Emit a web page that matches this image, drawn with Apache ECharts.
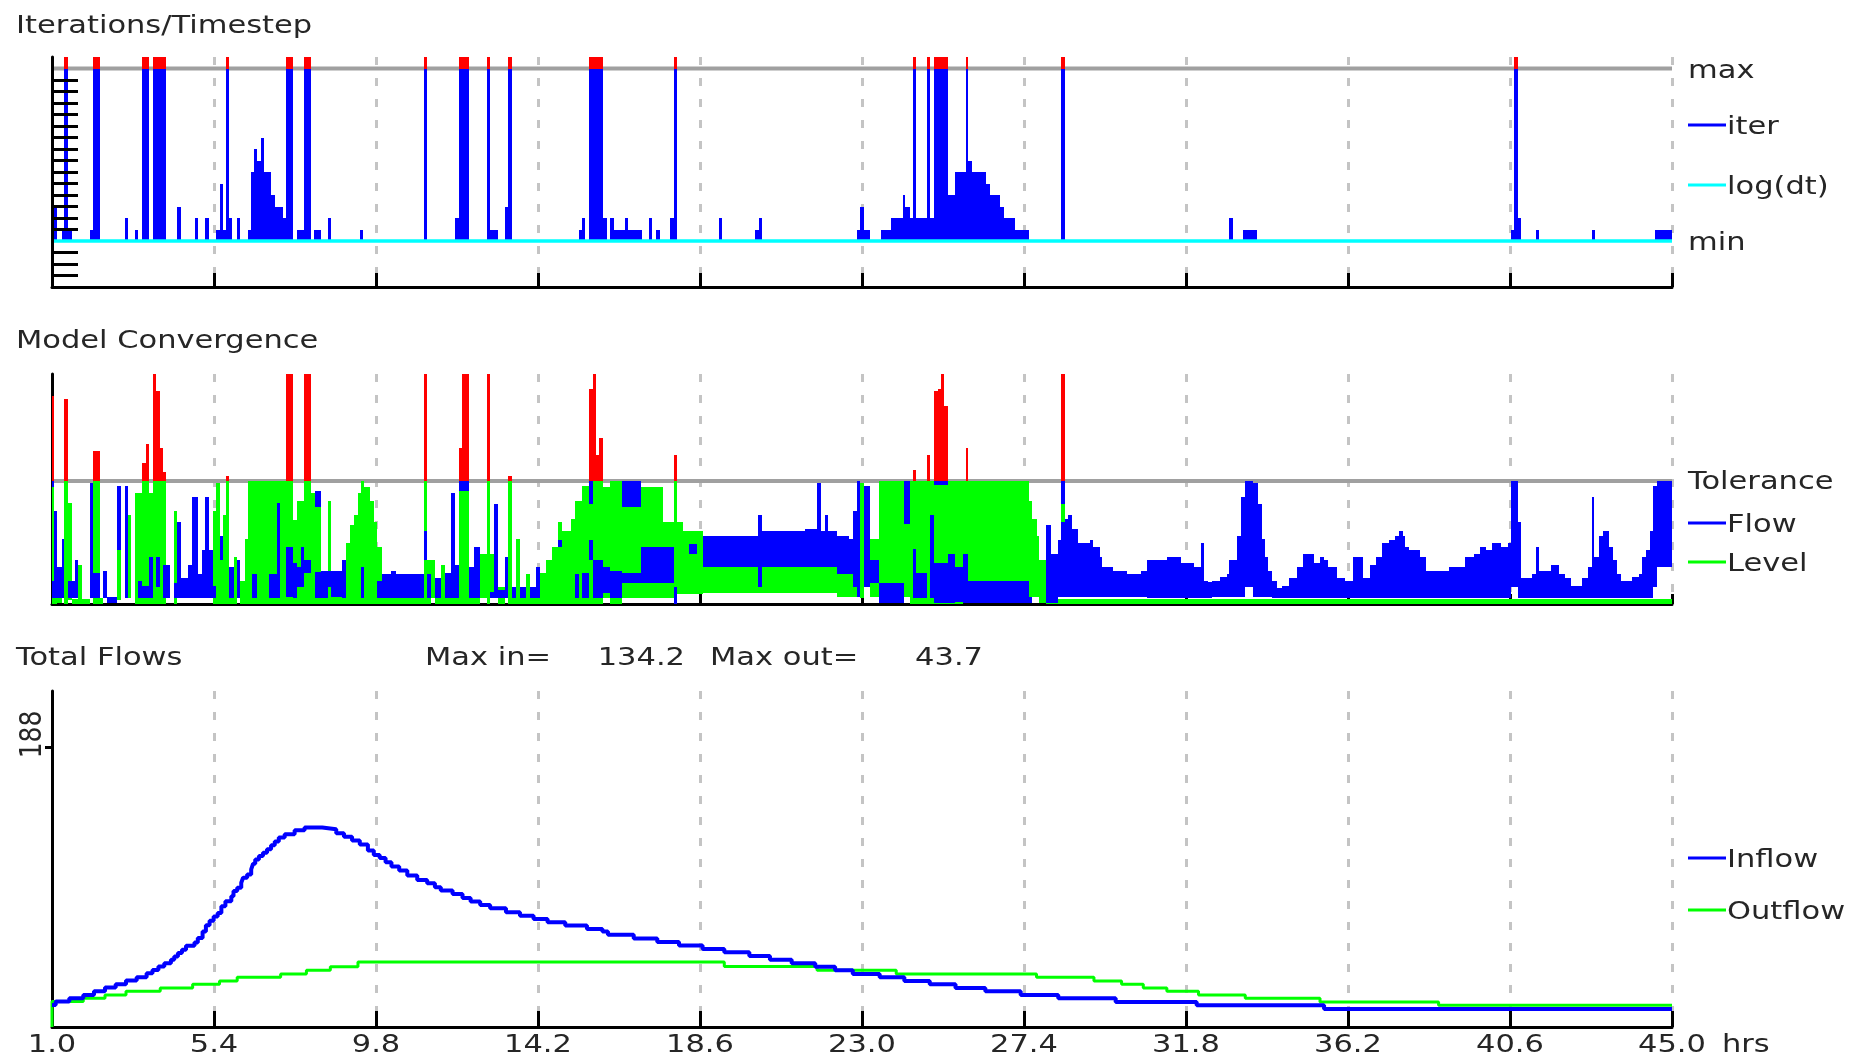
<!DOCTYPE html>
<html>
<head>
<meta charset="utf-8">
<title>Run summary</title>
<script src="https://cdn.jsdelivr.net/npm/echarts@6.0.0/dist/echarts.min.js"></script>
<style>
html,body{margin:0;padding:0;background:#ffffff;}
#chart{width:1852px;height:1058px;}
</style>
</head>
<body>
<div id="chart"></div>
<script>
// ================= DATA =================
const T_START = 1.0;
const T_END = 45.0;
const T_STEP = 4.4;
const X_TICK_LABELS = ['1.0','5.4','9.8','14.2','18.6','23.0','27.4','31.8','36.2','40.6','45.0'];
const X_UNIT = 'hrs';

// --- Iterations / Timestep ---
const ITER_MAX = 15;
const ITER_TICKS = [-3,-2,-1,1,2,3,4,5,6,7,8,9,10,11,12,13,14];
// [t start, t end, iterations]  (20 = exceeded max)
const ITER_SEGMENTS = [
  [1.00,1.06,20],[1.06,1.13,3],[1.26,1.33,1],[1.33,1.43,20],[1.43,1.53,1],
  [2.02,2.10,1],[2.10,2.31,20],[2.98,3.06,2],[3.25,3.33,1],[3.45,3.64,20],[3.73,4.10,20],
  [4.40,4.51,3],[4.89,4.96,2],[5.15,5.26,2],[5.45,5.55,1],[5.55,5.64,5],[5.64,5.73,1],[5.73,5.82,20],[5.82,5.90,2],[6.02,6.10,2],
  [6.31,6.41,1],[6.41,6.48,6],[6.48,6.58,8],[6.58,6.68,7],[6.68,6.77,9],[6.77,6.96,6],[6.96,7.07,4],[7.07,7.28,3],[7.28,7.35,2],[7.35,7.55,20],
  [7.65,7.85,1],[7.85,8.04,20],[8.12,8.30,1],[8.50,8.59,2],[9.36,9.46,1],
  [11.10,11.19,20],[11.95,12.05,2],[12.05,12.32,20],[12.82,12.90,20],[12.90,13.10,1],[13.30,13.39,3],[13.39,13.49,20],
  [15.31,15.39,1],[15.39,15.49,2],[15.59,15.97,20],[15.97,16.07,2],[16.15,16.26,2],[16.26,16.55,1],[16.55,16.64,2],[16.64,17.02,1],
  [17.21,17.30,2],[17.40,17.50,1],[17.79,17.89,2],[17.89,17.97,20],[19.12,19.21,2],[20.10,20.19,1],[20.19,20.28,2],
  [22.87,22.95,1],[22.95,23.05,3],[23.05,23.23,1],[23.51,23.80,1],[23.80,24.10,2],[24.10,24.18,4],[24.18,24.30,3],[24.30,24.38,2],[24.38,24.48,20],
  [24.48,24.76,2],[24.76,24.85,20],[24.85,24.95,2],[24.95,25.33,20],[25.33,25.52,4],[25.52,25.82,6],[25.82,25.88,20],[25.88,26.00,7],
  [26.00,26.38,6],[26.38,26.49,5],[26.49,26.75,4],[26.75,26.86,3],[26.86,27.15,2],[27.15,27.53,1],[28.40,28.50,20],
  [32.98,33.07,2],[33.36,33.74,1],[40.63,40.72,1],[40.72,40.81,20],[40.81,40.89,2],[41.31,41.40,1],[42.83,42.91,1],[44.55,45.00,1]
];
const LOGDT = [[1.0,0],[45.0,0]];

// --- Model Convergence (relative to tolerance = 1) ---
const TOLERANCE = 1.0;
// [t start, t end, low, high]
const LEVEL_SEGMENTS = [
  [1.00,1.06,0,0.95],[1.06,1.13,0,0.05],[1.13,1.26,0.01,0.10],[1.33,1.43,0,1.0],[1.43,1.53,0.03,0.82],
  [1.53,1.71,0,0.04],[1.71,1.82,0,0.32],[1.82,2.02,0,0.04],[2.10,2.31,0,1.0],[2.31,2.39,0,0.05],
  [2.77,2.87,0.03,0.44],[3.06,3.14,0.05,0.72],[3.25,3.45,0,0.90],[3.45,3.64,0,1.0],[3.64,3.73,0,0.90],
  [3.73,4.10,0,1.0],[4.32,4.40,0,0.76],[5.36,5.45,0,0.76],[5.45,5.55,0,0.98],[5.55,5.64,0,0.36],
  [5.64,5.73,0,0.72],[5.73,5.82,0,1.0],[5.82,5.93,0,0.14],[5.93,6.02,0,0.38],[6.10,6.23,0,0.19],
  [6.23,6.31,0,0.53],[6.31,7.55,0,1.0],[7.55,7.66,0,0.68],[7.66,7.85,0,0.84],[7.85,8.04,0,1.0],
  [8.04,8.13,0,0.90],[8.13,8.31,0,0.79],[8.31,8.50,0,0.06],[8.50,8.59,0,0.84],[8.59,8.89,0,0.06],
  [8.89,8.99,0,0.32],[8.99,9.09,0,0.50],[9.09,9.20,0,0.64],[9.20,9.31,0,0.72],[9.31,9.38,0,0.90],
  [9.38,9.47,0,1.0],[9.47,9.63,0,0.95],[9.63,9.74,0,0.84],[9.74,9.84,0,0.67],[9.84,9.95,0,0.46],
  [9.95,11.10,0,0.05],[11.10,11.19,0,1.0],[11.19,11.29,0,0.36],[11.29,11.40,0.05,0.36],[11.40,11.56,0,0.05],
  [11.56,11.67,0,0.32],[11.67,12.06,0,0.05],[12.06,12.32,0,1.0],[12.32,12.62,0,0.06],[12.62,12.82,0.05,0.41],
  [12.82,12.90,0,1.0],[12.90,13.01,0.05,0.41],[13.10,13.30,0,0.14],[13.39,13.49,0,1.0],[13.49,13.60,0,0.05],
  [13.60,13.71,0,0.53],[13.71,13.87,0,0.05],[13.87,13.98,0,0.24],[13.98,14.25,0,0.05],[14.25,14.41,0,0.25],
  [14.41,14.57,0,0.36],[14.57,14.73,0,0.46],[14.73,14.84,0,0.67],[14.84,15.10,0,0.59],[15.10,15.21,0,0.69],
  [15.21,15.39,0,0.84],[15.39,15.59,0,0.96],[15.59,15.97,0,1.0],[15.97,16.15,0.05,0.95],[16.15,16.47,0,1.0],
  [16.47,17.01,0.05,0.79],[17.01,17.60,0.05,0.95],[17.60,17.89,0.05,0.67],[17.89,17.97,0,1.0],[17.97,18.13,0.08,0.67],
  [18.13,18.67,0.08,0.59],[18.67,22.32,0.09,0.30],[22.32,22.86,0.06,0.25],[22.94,23.05,0.05,0.98],[23.23,23.45,0.06,0.53],
  [23.45,24.15,0.06,1.0],[24.15,24.31,0.06,0.65],[24.31,25.73,0,1.0],[25.73,25.88,0.41,1.0],[25.88,27.53,0.01,1.0],
  [27.53,27.63,0.06,0.84],[27.63,27.74,0.06,0.69],[27.74,27.82,0.06,0.55],[27.82,28.01,0.01,0.36],[28.40,28.50,0.67,0.81],
  [28.01,45.00,0,0.04]
];
const FLOW_SEGMENTS = [
  [1.00,1.06,0.95,1.0],[1.00,1.06,0.05,0.19],[1.06,1.13,0.05,0.76],[1.13,1.26,0.05,0.30],[1.26,1.33,0.05,0.53],
  [1.43,1.53,0.05,0.19],[1.53,1.63,0.05,0.19],[1.63,1.71,0.05,0.36],[2.02,2.10,0.05,0.98],[2.10,2.31,0.05,0.25],
  [2.39,2.49,0.05,0.27],[2.49,2.77,0.01,0.06],[2.77,2.87,0.44,0.96],[2.98,3.06,0.05,0.96],[3.33,3.45,0.05,0.19],
  [3.45,3.64,0.05,0.15],[3.64,3.73,0.05,0.38],[3.83,3.92,0.14,0.38],[4.02,4.21,0.05,0.32],[4.32,4.40,0.05,0.17],
  [4.40,4.51,0.05,0.67],[4.51,4.69,0.05,0.21],[4.69,4.79,0.05,0.32],[4.79,4.96,0.05,0.87],[4.96,5.07,0.05,0.24],
  [5.07,5.15,0.05,0.44],[5.15,5.26,0.05,0.87],[5.26,5.36,0.05,0.44],[5.36,5.45,0.05,0.15],[5.55,5.64,0.36,0.55],
  [5.82,5.93,0.05,0.30],[6.02,6.10,0.05,0.36],[6.42,6.57,0.05,0.24],[6.89,7.11,0.05,0.24],[7.11,7.19,0.05,0.82],
  [7.35,7.55,0.06,0.46],[7.55,7.66,0.05,0.33],[7.66,7.75,0.14,0.30],[7.75,7.85,0.14,0.46],[7.85,8.04,0.25,0.36],
  [8.13,8.31,0.79,0.92],[8.13,8.31,0.05,0.26],[8.31,8.50,0.05,0.27],[8.50,8.59,0.14,0.27],[8.59,8.89,0.06,0.27],
  [8.89,8.99,0.05,0.36],[9.38,9.47,0.05,0.30],[9.84,9.95,0.05,0.19],[9.95,10.22,0.05,0.24],[10.22,10.33,0.05,0.27],
  [10.33,11.10,0.05,0.24],[11.10,11.19,0.36,0.59],[11.19,11.29,0.05,0.24],[11.40,11.56,0.05,0.21],[11.67,11.83,0.05,0.25],
  [11.83,11.94,0.05,0.90],[11.94,12.06,0.05,0.32],[12.06,12.32,0.92,1.0],[12.32,12.47,0.05,0.30],[12.47,12.62,0.05,0.46],
  [12.90,13.01,0.05,0.10],[13.01,13.10,0.05,0.81],[13.10,13.30,0.05,0.11],[13.30,13.39,0.05,0.38],[13.49,13.60,0.05,0.14],
  [13.71,13.87,0.05,0.14],[13.98,14.14,0.05,0.14],[14.14,14.25,0.05,0.30],[14.73,14.84,0.46,0.52],[15.21,15.32,0.05,0.24],
  [15.39,15.59,0.05,0.25],[15.59,15.69,0.81,1.0],[15.59,15.69,0.36,0.52],[15.69,15.96,0.05,0.36],[15.97,16.15,0.09,0.30],
  [16.15,16.47,0.05,0.27],[16.47,17.01,0.79,1.0],[16.47,17.01,0.17,0.25],[17.01,17.60,0.17,0.46],[17.60,17.89,0.17,0.46],
  [17.89,17.97,0.0,0.14],[18.30,18.51,0.41,0.49],[18.67,20.17,0.30,0.55],[20.17,20.28,0.14,0.72],[20.28,21.46,0.30,0.59],
  [21.46,21.78,0.30,0.61],[21.78,21.89,0.30,0.98],[21.89,22.00,0.30,0.59],[22.00,22.08,0.30,0.72],[22.08,22.32,0.30,0.59],
  [22.32,22.64,0.24,0.55],[22.64,22.75,0.24,0.53],[22.75,22.86,0.14,0.76],[22.86,22.94,0.06,1.0],[23.05,23.23,0.14,0.96],
  [23.23,23.45,0.17,0.36],[23.45,24.15,0.01,0.17],[24.15,24.31,0.65,1.0],[24.38,24.48,0.05,0.45],[24.48,24.76,0.05,0.25],
  [24.85,24.95,0.05,0.72],[24.95,25.33,0.97,1.0],[24.95,25.33,0.01,0.33],[25.33,25.52,0.01,0.41],[25.52,25.73,0.02,0.30],
  [25.73,25.88,0.01,0.41],[25.88,27.53,0.01,0.19],[27.53,27.63,0.01,0.06],[28.01,28.12,0.01,0.64],[28.12,28.33,0.01,0.41],
  [28.33,28.40,0.06,0.52],[28.40,28.50,0.81,1.0],[28.40,28.50,0.06,0.67],
  [28.50,28.60,0.06,0.69],[28.60,28.71,0.06,0.72],[28.71,28.87,0.06,0.61],[28.87,29.19,0.06,0.50],[29.19,29.28,0.06,0.52],
  [29.28,29.46,0.06,0.46],[29.46,29.53,0.06,0.38],[29.53,29.83,0.06,0.30],[29.83,30.21,0.06,0.27],[30.21,30.59,0.06,0.24],
  [30.59,30.75,0.06,0.27],[30.75,31.28,0.05,0.36],[31.28,31.66,0.05,0.38],[31.66,32.03,0.05,0.33],[32.03,32.20,0.05,0.30],
  [32.20,32.28,0.05,0.50],[32.28,32.41,0.05,0.19],[32.41,32.51,0.05,0.18],[32.51,32.73,0.06,0.19],[32.73,32.90,0.06,0.22],
  [32.90,32.98,0.06,0.24],[32.98,33.18,0.06,0.36],[33.18,33.30,0.06,0.55],[33.30,33.39,0.06,0.87],[33.39,33.63,0.14,1.0],
  [33.63,33.75,0.06,0.98],[33.75,33.86,0.06,0.81],[33.86,33.94,0.06,0.53],[33.94,34.03,0.06,0.38],[34.03,34.14,0.06,0.27],
  [34.14,34.26,0.05,0.19],[34.26,34.42,0.05,0.13],[34.42,34.59,0.05,0.15],[34.59,34.82,0.05,0.21],[34.82,34.99,0.05,0.30],
  [34.99,35.27,0.05,0.41],[35.27,35.44,0.05,0.33],[35.44,35.55,0.05,0.38],[35.55,35.67,0.05,0.36],[35.67,35.89,0.05,0.30],
  [35.89,36.12,0.05,0.21],[36.12,36.34,0.05,0.19],[36.34,36.62,0.05,0.38],[36.62,36.79,0.05,0.21],[36.79,36.96,0.05,0.32],
  [36.96,37.13,0.05,0.38],[37.13,37.30,0.05,0.50],[37.30,37.47,0.05,0.52],[37.47,37.58,0.05,0.55],[37.58,37.70,0.05,0.59],
  [37.70,37.75,0.05,0.55],[37.75,37.87,0.05,0.46],[37.87,38.15,0.05,0.44],[38.15,38.32,0.05,0.38],[38.32,38.94,0.05,0.27],
  [38.94,39.39,0.05,0.30],[39.39,39.62,0.05,0.38],[39.62,39.79,0.05,0.41],[39.79,39.96,0.05,0.46],[39.96,40.12,0.05,0.44],
  [40.12,40.35,0.05,0.50],[40.35,40.54,0.05,0.46],[40.54,40.63,0.05,0.50],[40.63,40.81,0.14,1.0],[40.81,40.89,0.05,0.67],
  [40.89,41.20,0.05,0.21],[41.20,41.31,0.05,0.24],[41.31,41.40,0.05,0.46],[41.40,41.70,0.05,0.27],[41.70,41.93,0.05,0.32],
  [41.93,42.10,0.05,0.24],[42.10,42.27,0.05,0.21],[42.27,42.55,0.05,0.15],[42.55,42.72,0.05,0.21],[42.72,42.83,0.05,0.30],
  [42.83,42.89,0.05,0.87],[42.89,43.03,0.05,0.38],[43.03,43.12,0.05,0.55],[43.12,43.28,0.05,0.59],[43.28,43.40,0.05,0.46],
  [43.40,43.51,0.05,0.36],[43.51,43.62,0.05,0.24],[43.62,43.91,0.05,0.19],[43.91,44.11,0.05,0.22],[44.11,44.19,0.05,0.24],
  [44.19,44.30,0.05,0.38],[44.30,44.41,0.05,0.44],[44.41,44.49,0.05,0.59],[44.49,44.58,0.14,0.96],[44.58,45.00,0.30,1.0]
];
// [t start, t end, peak] convergence exceeding tolerance
const CONV_PEAKS = [
  [1.00,1.06,1.69],[1.33,1.43,1.67],[2.10,2.31,1.24],[3.45,3.54,1.15],[3.54,3.64,1.30],
  [3.73,3.83,1.9],[3.83,3.92,1.73],[3.92,4.02,1.27],[4.02,4.10,1.07],[5.73,5.82,1.04],
  [7.35,7.55,1.9],[7.85,8.04,1.9],[11.10,11.19,1.9],[12.06,12.14,1.27],[12.14,12.32,1.9],
  [12.82,12.90,1.9],[13.39,13.49,1.04],[15.59,15.69,1.75],[15.69,15.78,1.9],[15.78,15.87,1.21],
  [15.87,15.97,1.35],[17.89,17.97,1.21],[24.38,24.48,1.09],[24.76,24.85,1.21],[24.95,25.06,1.73],
  [25.06,25.15,1.75],[25.15,25.24,1.9],[25.24,25.33,1.61],[25.82,25.88,1.27],[28.40,28.50,1.9]
];

// --- Total Flows ---  [t, value] (value holds until next t)
const INFLOW = [
  [1.00,14.8],[1.10,17.1],[1.47,19.3],[1.85,21.6],[2.14,24.0],[2.44,26.5],[2.73,28.8],[3.01,31.2],[3.30,33.5],
  [3.57,36.2],[3.73,38.4],[3.89,40.7],[4.05,42.9],[4.23,45.2],[4.32,47.4],[4.42,49.7],[4.53,51.9],[4.64,54.6],
  [4.87,56.9],[4.96,59.8],[5.09,64.3],[5.18,68.5],[5.28,71.5],[5.39,74.4],[5.50,76.7],[5.60,81.2],[5.71,84.6],
  [5.87,88.0],[5.93,91.4],[6.03,93.6],[6.14,97.0],[6.19,100.4],[6.30,102.6],[6.41,106.0],[6.46,109.8],[6.52,112.7],
  [6.62,115.0],[6.73,117.2],[6.84,119.5],[6.95,122.2],[7.05,124.7],[7.16,127.4],[7.32,129.6],[7.59,132.3],[7.86,134.2],
  [8.34,133.0],[8.72,130.3],[8.93,128.0],[9.15,125.4],[9.36,122.7],[9.58,118.7],[9.74,115.7],[9.90,113.7],[10.06,110.8],
  [10.22,107.9],[10.43,105.2],[10.65,101.9],[10.92,98.9],[11.19,96.7],[11.40,94.0],[11.56,91.8],[11.88,89.5],[12.15,86.8],
  [12.37,84.4],[12.63,82.1],[12.90,79.9],[13.33,77.2],[13.71,74.9],[14.08,72.7],[14.46,70.5],[14.94,68.2],[15.53,66.0],
  [15.95,64.3],[16.10,62.1],[16.80,59.6],[17.44,57.1],[18.03,54.9],[18.67,52.4],[19.26,50.2],[19.94,47.7],[20.50,45.2],
  [21.09,42.9],[21.73,40.5],[22.27,38.2],[22.75,35.7],[23.48,33.5],[24.15,31.0],[24.84,28.8],[25.54,26.3],[26.35,24.0],
  [27.31,21.6],[28.33,19.3],[29.89,16.8],[32.09,14.6],[35.55,12.1],[45.00,12.1]
];
const OUTFLOW = [
  [1.00,0],[1.00,17.1],[1.85,19.3],[2.44,21.6],[3.01,24.0],[3.94,26.3],[4.82,28.8],[5.55,31.0],[6.03,33.5],
  [7.21,35.7],[7.91,38.2],[8.56,40.5],[9.31,43.7],[19.26,40.7],[21.78,38.2],[23.93,35.7],[27.74,33.5],[29.30,31.0],
  [30.05,28.8],[30.64,26.3],[31.28,24.0],[32.14,21.6],[33.41,19.3],[35.44,16.8],[38.66,14.6],[45.00,14.6]
];
const MAX_IN = 134.2;
const MAX_OUT = 43.7;
const FLOW_AXIS_TICKS = [188];

// ================= STYLE =================
const C = {
  blue:'#0000ff', green:'#00ff00', red:'#ff0000', cyan:'#00ffff',
  ref:'#a0a0a0', grid:'#c4c4c4', axis:'#000000', text:'#262626'
};
const FONT = '25px "DejaVu Sans"';
const SX = 1.22;
const DY = 3; // text vertical nudge

const sx = t => t - T_START;

function xAxisCfg(gridIndex, tickLen) {
  return {
    type:'value', gridIndex, min:0, max:T_END - T_START, interval:T_STEP,
    axisLine:{show:true, onZero:false, lineStyle:{color:C.axis, width:3}},
    axisTick:{show:true, inside:true, length:tickLen, lineStyle:{color:C.axis, width:3}},
    axisLabel:{show:false},
    splitLine:{show:true, lineStyle:{color:C.grid, width:3, type:[8,13]}}
  };
}

function rangeRender(color) {
  return function (params, api) {
    const cs = params.coordSys;
    const a = api.coord([api.value(0), api.value(3)]);
    const b = api.coord([api.value(1), api.value(2)]);
    const x0 = Math.round(a[0]), x1 = Math.round(b[0]);
    const y0 = Math.round(Math.max(a[1], cs.y));
    const y1 = Math.round(Math.min(b[1], cs.y + cs.height));
    if (x1 <= x0 || y1 <= y0) return null;
    return {type:'rect', shape:{x:x0, y:y0, width:x1 - x0, height:y1 - y0}, style:{fill:color}};
  };
}

function iterRender(params, api) {
  const cs = params.coordSys;
  const t0 = api.value(0), t1 = api.value(1), v = api.value(2);
  const children = [];
  const base = api.coord([t0, 0]);
  const right = api.coord([t1, 0]);
  const x0 = Math.round(base[0]), x1 = Math.round(right[0]);
  const yTop = api.coord([t0, Math.min(v, ITER_MAX)])[1];
  children.push({type:'rect', shape:{x:x0, y:Math.round(yTop), width:x1 - x0, height:Math.round(base[1]) - Math.round(yTop)}, style:{fill:C.blue}});
  if (v > ITER_MAX) {
    const yMax = api.coord([t0, ITER_MAX])[1];
    const yOver = Math.max(api.coord([t0, v])[1], cs.y);
    children.push({type:'rect', shape:{x:x0, y:Math.round(yOver), width:x1 - x0, height:Math.round(yMax) - Math.round(yOver)}, style:{fill:C.red}});
  }
  return {type:'group', children};
}

const option = {
  animation:false,
  backgroundColor:'#ffffff',
  grid:[
    {left:52, right:180, top:57, bottom:771},
    {left:52, right:180, top:374, bottom:454},
    {left:52, right:180, top:691, bottom:31}
  ],
  xAxis:[xAxisCfg(0,14), xAxisCfg(1,10), xAxisCfg(2,16)],
  yAxis:[
    {type:'value', gridIndex:0, min:-4, max:16, interval:1, z:10,
     axisLine:{show:true, onZero:false, lineStyle:{color:C.axis, width:3}},
     axisTick:{show:true, inside:true, length:26, customValues:ITER_TICKS, lineStyle:{color:C.axis, width:3}},
     axisLabel:{show:false}, splitLine:{show:false}},
    {type:'value', gridIndex:1, min:0, max:1.87,
     axisLine:{show:true, onZero:false, lineStyle:{color:C.axis, width:3}},
     axisTick:{show:false}, axisLabel:{show:false}, splitLine:{show:false}},
    {type:'value', gridIndex:2, min:0, max:226,
     axisLine:{show:true, onZero:false, lineStyle:{color:C.axis, width:3}},
     axisTick:{show:true, inside:false, length:7, customValues:FLOW_AXIS_TICKS, lineStyle:{color:C.axis, width:3}},
     axisLabel:{show:false}, splitLine:{show:false}}
  ],
  series:[
    {type:'line', xAxisIndex:0, yAxisIndex:0, z:1, silent:true, symbol:'none',
     data:[[sx(T_START), ITER_MAX],[sx(T_END), ITER_MAX]], lineStyle:{color:C.ref, width:4}},
    {type:'custom', xAxisIndex:0, yAxisIndex:0, z:2, silent:true, renderItem:iterRender,
     encode:{x:[0,1], y:2},
     data:ITER_SEGMENTS.map(s => [sx(s[0]), sx(s[1]), s[2]])},
    {type:'line', xAxisIndex:0, yAxisIndex:0, z:3, silent:true, symbol:'none',
     data:LOGDT.map(p => [sx(p[0]), p[1]]), lineStyle:{color:C.cyan, width:3.5}},

    {type:'line', xAxisIndex:1, yAxisIndex:1, z:1, silent:true, symbol:'none',
     data:[[sx(T_START), TOLERANCE],[sx(T_END), TOLERANCE]], lineStyle:{color:C.ref, width:4}},
    {type:'custom', xAxisIndex:1, yAxisIndex:1, z:2, silent:true, renderItem:rangeRender(C.green),
     encode:{x:[0,1], y:[2,3]},
     data:LEVEL_SEGMENTS.map(s => [sx(s[0]), sx(s[1]), s[2], s[3]])},
    {type:'custom', xAxisIndex:1, yAxisIndex:1, z:3, silent:true, renderItem:rangeRender(C.blue),
     encode:{x:[0,1], y:[2,3]},
     data:FLOW_SEGMENTS.map(s => [sx(s[0]), sx(s[1]), s[2], s[3]])},
    {type:'custom', xAxisIndex:1, yAxisIndex:1, z:4, silent:true, renderItem:rangeRender(C.red),
     encode:{x:[0,1], y:[2,3]},
     data:CONV_PEAKS.map(s => [sx(s[0]), sx(s[1]), TOLERANCE, s[2]])},

    {type:'line', xAxisIndex:2, yAxisIndex:2, z:2, silent:true, symbol:'none', step:'end',
     data:OUTFLOW.map(p => [sx(p[0]), p[1]]), lineStyle:{color:C.green, width:3}},
    {type:'line', xAxisIndex:2, yAxisIndex:2, z:3, silent:true, symbol:'none', step:'end',
     data:INFLOW.map(p => [sx(p[0]), p[1]]), lineStyle:{color:C.blue, width:4}}
  ]
};

const chart = echarts.init(document.getElementById('chart'), null, {renderer:'canvas', width:1852, height:1058});
chart.setOption(option);

// ================= TEXT (real text, stretched like the reference) =================
function txt(text, x, y, align, extra) {
  return Object.assign({
    type:'text', x, y:y + DY, scaleX:SX, z:20, silent:true,
    style:{text, font:FONT, fill:C.text, textAlign:align || 'left', textVerticalAlign:'middle'}
  }, extra || {});
}
function legLine(x1, x2, y, color) {
  return {type:'line', z:20, silent:true, shape:{x1, y1:y, x2, y2:y}, style:{stroke:color, lineWidth:3}};
}

const g = [
  txt('Iterations/Timestep', 16, 23),
  txt('Model Convergence', 16, 338),
  txt('Total Flows', 16, 655),
  txt('Max in=', 425, 655),
  txt(MAX_IN.toFixed(1), 685, 655, 'right'),
  txt('Max out=', 710, 655),
  txt(MAX_OUT.toFixed(1), 983, 655, 'right'),

  txt('max', 1688, 68),
  legLine(1688, 1726, 125, C.blue), txt('iter', 1727, 124),
  legLine(1688, 1726, 185, C.cyan), txt('log(dt)', 1727, 184),
  txt('min', 1688, 240),

  txt('Tolerance', 1688, 479),
  legLine(1688, 1726, 523, C.blue), txt('Flow', 1727, 522),
  legLine(1688, 1726, 562, C.green), txt('Level', 1727, 561),

  legLine(1688, 1726, 858, C.blue), txt('Inflow', 1727, 857),
  legLine(1688, 1726, 910, C.green), txt('Outflow', 1727, 909)
];

X_TICK_LABELS.forEach(lab => {
  const px = chart.convertToPixel({xAxisIndex:2}, sx(parseFloat(lab)));
  g.push(txt(lab, px, 1042, 'center'));
});
const lastX = chart.convertToPixel({xAxisIndex:2}, sx(T_END));
g.push(txt(X_UNIT, lastX + 50, 1042, 'left'));

FLOW_AXIS_TICKS.forEach(v => {
  const py = chart.convertToPixel({yAxisIndex:2}, v);
  g.push({type:'text', x:33, y:py - 13, rotation:Math.PI / 2, scaleY:SX, z:20, silent:true,
          style:{text:String(v), font:FONT, fill:C.text, textAlign:'center', textVerticalAlign:'middle'}});
});

chart.setOption({graphic:g});
</script>
</body>
</html>
